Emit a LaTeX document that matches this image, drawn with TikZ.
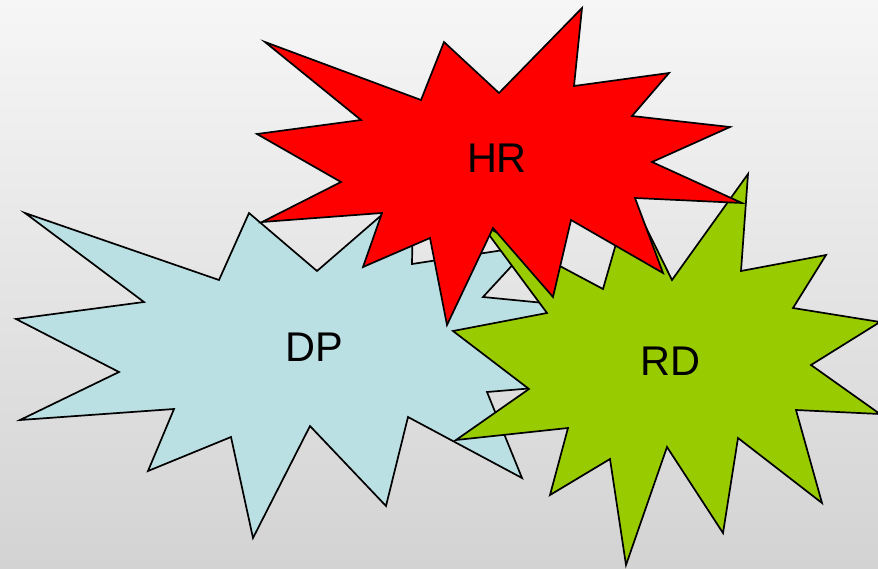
\documentclass[tikz,border=0pt]{standalone}
\usepackage{fontspec}
\setmainfont{Liberation Sans}
\definecolor{dpblue}{HTML}{BBE0E3}
\definecolor{rdgreen}{HTML}{99CC00}
\definecolor{hrred}{HTML}{FF0000}
\definecolor{bgtop}{RGB}{246,246,246}
\definecolor{bgbot}{RGB}{211,211,211}
\tikzset{
  burst/.style={draw=black, line width=1.7pt, line join=miter, miter limit=20},
  lbl/.style={inner sep=0pt, font=\fontsize{41.5}{41.5}\selectfont, text=black}
}
\begin{document}
\begin{tikzpicture}[x=1pt,y=-1pt]
\useasboundingbox (0,0) rectangle (878,568);
\shade[top color=bgtop, bottom color=bgbot] (0,0) rectangle (878,568);
% DP (blue)
\draw[burst, fill=dpblue] (25,213) -- (219,280) -- (249,213) -- (317,271) -- (384,213)
 -- (398,248) -- (413,205) -- (412,264) -- (530,246) -- (483,297) -- (575,306)
 -- (530,345) -- (570,385) -- (487,392) -- (522,478) -- (408,417) -- (386,506)
 -- (310,426) -- (253,538) -- (231,437) -- (148,471) -- (174,409) -- (20,420)
 -- (119,372) -- (16,319) -- (144,302) -- cycle;
% RD (green)
\draw[burst, fill=rdgreen] (748,174) -- (741,271) -- (826,255) -- (793,308) -- (880,322)
 -- (811,365) -- (880,414) -- (796,410) -- (822,503) -- (738,438) -- (723,533)
 -- (667,447) -- (626,565) -- (610,459) -- (550,495) -- (568,428) -- (456,440)
 -- (529,389) -- (453,331) -- (547,313) -- (481,224) -- (603,289) -- (630,195)
 -- (672,280) -- cycle;
% HR (red)
\draw[burst, fill=hrred] (265,42) -- (361,120) -- (257,134) -- (341,182) -- (262,222)
 -- (382,213) -- (363,267) -- (430,238) -- (447,325) -- (493,228) -- (553,297)
 -- (571,220) -- (663,273) -- (635,198) -- (742,203) -- (652,162) -- (730,127)
 -- (632,116) -- (669,73) -- (574,86) -- (582,8) -- (499,93) -- (444,42)
 -- (421,100) -- cycle;
\node[lbl] (hr) at (497,158) {HR};
\node[lbl] (dp) at (314,347) {DP};
\node[lbl] (rd) at (670,361) {RD};
\end{tikzpicture}
\end{document}
